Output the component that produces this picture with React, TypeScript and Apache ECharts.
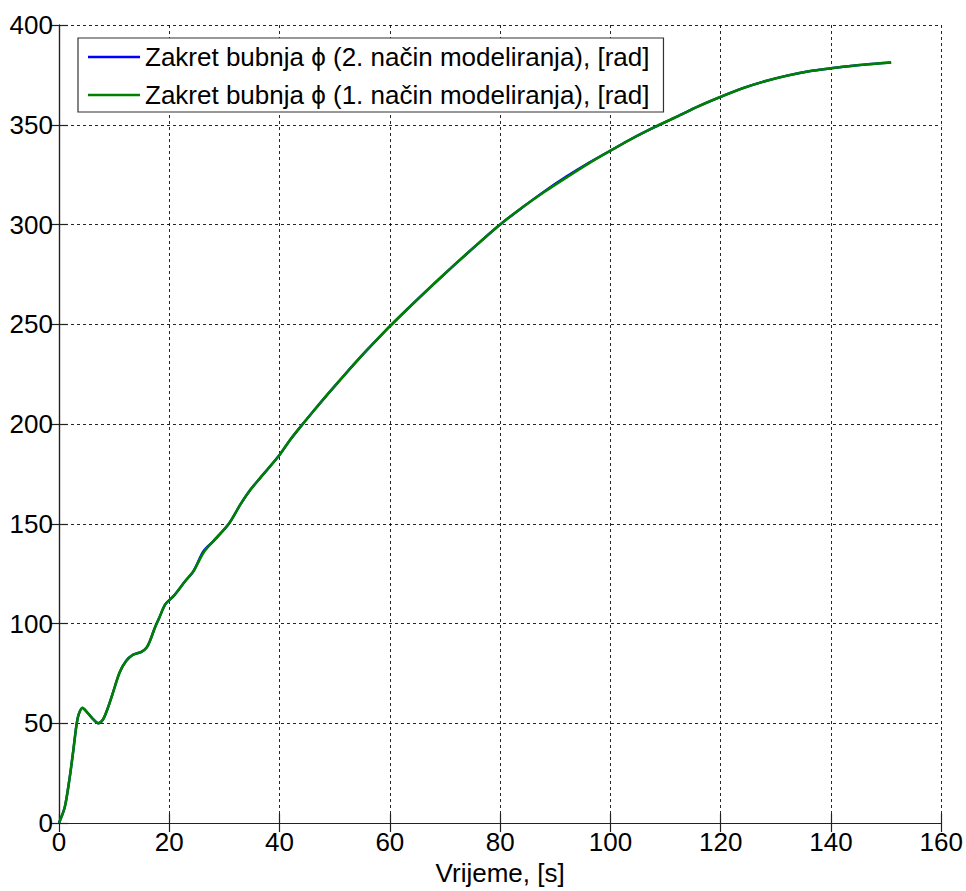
import React, { useEffect, useRef } from "react";
import * as echarts from "echarts";

const timeS = [0, 1.05, 1.95, 2.6, 3.2, 3.6, 4.25, 5.1, 6.2, 7.1, 8.0, 8.9, 9.8, 11.0, 12.2, 13.4, 14.95, 15.9, 16.5, 17.4, 18.2, 19.3, 20.8, 22.9, 24.4, 26.2, 28.0, 30.8, 32.9, 34.7, 36.5, 39.8, 41.9, 44.2, 46, 48, 50, 52, 54, 56, 58, 60, 64, 68, 72, 76, 80, 84, 88, 92, 96, 100, 104, 108, 112, 116, 120, 124, 128, 132, 136, 140, 144, 148, 150.9];
const phiMethod1 = [0, 8, 23, 36.5, 49.7, 54.7, 57.7, 55.5, 52, 50, 52, 58, 65.5, 75.5, 81.3, 84.3, 85.8, 88, 91.3, 98, 103, 109.7, 113.8, 121.3, 126.3, 135.5, 141.3, 150, 159.7, 167, 173, 183.8, 192, 200, 206, 212.6, 219, 225.3, 231.5, 237.5, 243.3, 249, 259.8, 270.3, 280.5, 290.4, 300, 308.5, 316.3, 323.5, 330.5, 337, 343.2, 348.8, 354, 359.3, 364, 368.3, 371.8, 374.6, 376.8, 378.3, 379.6, 380.6, 381.2];
const phiMethod2 = [0, 8, 23, 36.5, 49.7, 54.7, 57.7, 55.5, 52, 50, 52, 58, 65.5, 75.5, 81.3, 84.3, 85.8, 88, 91.3, 98, 103, 109.7, 113.8, 121.3, 126.3, 136.2, 141.3, 150, 159.7, 167, 173, 183.8, 192, 200, 206, 212.6, 219, 225.3, 231.5, 237.5, 243.3, 249, 259.8, 270.3, 280.5, 290.4, 300, 308.5, 316.6, 324, 330.8, 337, 343.2, 348.8, 354, 359.3, 364, 368.3, 371.8, 374.6, 376.8, 378.3, 379.6, 380.6, 381.2];

const seriesNames = [
  "Zakret bubnja \u03d5 (2. na\u010din modeliranja), [rad]",
  "Zakret bubnja \u03d5 (1. na\u010din modeliranja), [rad]",
];
const xTicks = { min: 0, max: 160, interval: 20 };
const yTicks = { min: 0, max: 400, interval: 50 };

const FONT = "Liberation Sans, Arial, sans-serif";

export default function App() {
  const ref = useRef<HTMLDivElement>(null);
  useEffect(() => {
    if (!ref.current) return;
    const chart = echarts.init(ref.current, undefined, { renderer: "svg" });
    const axisLine = { show: true, lineStyle: { color: "#222", width: 1.2 } };
    const tickIn = { show: true, inside: true, length: 9, lineStyle: { color: "#222", width: 1.2 } };
    const grid = { show: true, lineStyle: { color: "#000", width: 1, type: [3, 3] as any, opacity: 0.85 } };
    const lbl = { color: "#000", fontSize: 26, fontFamily: FONT };
    chart.setOption({
      animation: false,
      backgroundColor: "#fff",
      grid: { left: 59, top: 25, width: 883, height: 801, containLabel: false },
      legend: {
        left: 78,
        top: 38,
        orient: "vertical",
        backgroundColor: "#fff",
        borderColor: "#333",
        borderWidth: 1.2,
        borderRadius: 0,
        padding: [6, 14, 4, 10],
        itemGap: 12,
        itemWidth: 52,
        itemHeight: 2.5,
        icon: "rect",
        textStyle: { color: "#000", fontSize: 26, fontFamily: FONT },
        data: seriesNames,
      },
      xAxis: [
        {
          type: "value", position: "bottom", ...xTicks,
          name: "Vrijeme, [s]", nameLocation: "middle", nameGap: 37,
          nameTextStyle: { color: "#000", fontSize: 26, fontFamily: FONT },
          axisLine, axisTick: tickIn, splitLine: grid,
          axisLabel: { ...lbl, margin: 6 },
        },
        {
          type: "value", position: "top", ...xTicks,
          axisLine, axisTick: tickIn, splitLine: { show: false }, axisLabel: { show: false },
        },
      ],
      yAxis: [
        {
          type: "value", position: "left", ...yTicks,
          axisLine, axisTick: tickIn, splitLine: grid,
          axisLabel: { ...lbl, margin: 6 },
        },
        {
          type: "value", position: "right", ...yTicks,
          axisLine, axisTick: tickIn, splitLine: { show: false }, axisLabel: { show: false },
        },
      ],
      series: [
        {
          name: seriesNames[0], type: "line", showSymbol: false, symbol: "none",
          smooth: 0.3,
          lineStyle: { color: "#0000ff", width: 2.4 }, itemStyle: { color: "#0000ff" },
          data: timeS.map((t, i) => [t, phiMethod2[i]]),
        },
        {
          name: seriesNames[1], type: "line", showSymbol: false, symbol: "none",
          smooth: 0.3,
          lineStyle: { color: "#008000", width: 2.6 }, itemStyle: { color: "#008000" },
          data: timeS.map((t, i) => [t, phiMethod1[i]]),
        },
      ],
    });
    return () => chart.dispose();
  }, []);
  return <div ref={ref} style={{ position: "fixed", left: 0, top: 0, width: 966, height: 891 }} />;
}
